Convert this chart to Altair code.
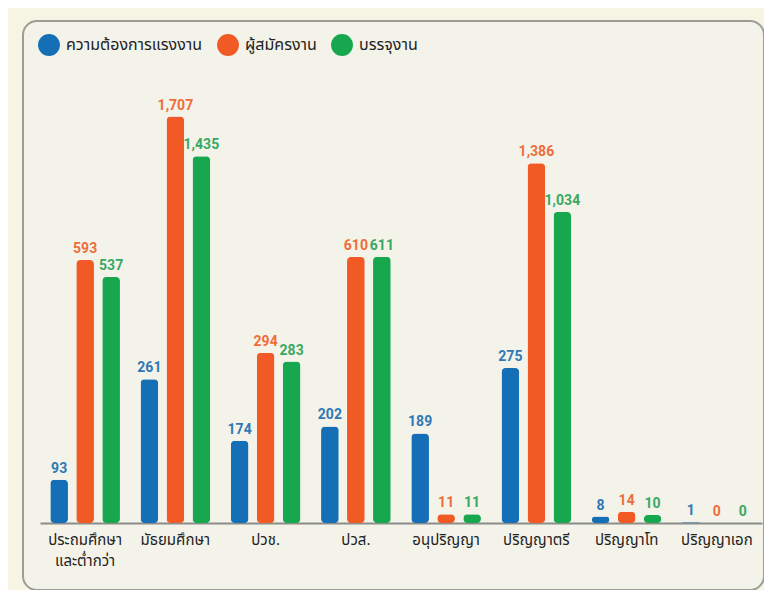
import altair as alt
import pandas as pd

categories = ["ประถมศึกษา\nและต่ำกว่า", "มัธยมศึกษา", "ปวช.", "ปวส.", "อนุปริญญา",
              "ปริญญาตรี", "ปริญญาโท", "ปริญญาเอก"]
series = ["ความต้องการแรงงาน", "ผู้สมัครงาน", "บรรจุงาน"]
demand = [93, 261, 174, 202, 189, 275, 8, 1]
applicants = [593, 1707, 294, 610, 11, 1386, 14, 0]
placed = [537, 1435, 283, 611, 11, 1034, 10, 0]

bar_colors = ["#156fb6", "#f15a24", "#17a84f"]
label_colors = ["#2f78b6", "#ef6d3a", "#3aa862"]

rows = []
for s, vals in zip(series, [demand, applicants, placed]):
    for c, v in zip(categories, vals):
        rows.append({"cat": c, "series": s, "value": v})
df = pd.DataFrame(rows)

THAI = "Noto Sans Thai, Noto Sans, sans-serif"

# infographic-style (non-linear) value scale
y_scale = alt.Scale(domain=[0, 15, 100, 200, 300, 600, 1100, 1800],
                    range=[502, 490, 456, 407, 327, 237, 184, 82],
                    nice=False, zero=False)

x_enc = alt.X("cat:N", sort=categories,
              scale=alt.Scale(range=[17, 739], paddingInner=0.136, paddingOuter=0.068),
              axis=alt.Axis(title=None, orient="bottom", offset=-67, ticks=False,
                            labelAngle=0, labelFontSize=15, labelColor="#222222",
                            labelFont=THAI, labelPadding=9, labelLimit=200,
                            labelLineHeight=21, labelBaseline="top",
                            labelExpr="split(datum.label, '\\n')",
                            domainColor="#8c8c88", domainWidth=2))
xoff = alt.XOffset("series:N", sort=series,
                   scale=alt.Scale(paddingInner=0.32, paddingOuter=0.16))

bars = alt.Chart(df).mark_bar(cornerRadius=4).encode(
    x=x_enc,
    xOffset=xoff,
    y=alt.Y("value:Q", scale=y_scale, axis=None),
    color=alt.Color("series:N", sort=series,
                    scale=alt.Scale(domain=series, range=bar_colors),
                    legend=alt.Legend(title=None, orient="none", legendX=15, legendY=13,
                                      direction="horizontal", symbolType="circle",
                                      symbolSize=480, symbolStrokeWidth=0,
                                      labelFont=THAI, labelFontSize=16,
                                      labelColor="#222222", labelOffset=6,
                                      columnPadding=14, labelLimit=300)),
)

labels = alt.Chart(df).mark_text(baseline="bottom", dy=-4, fontSize=14,
                                 font="Liberation Sans Narrow, Roboto, sans-serif",
                                 fontWeight="bold").encode(
    x=alt.X("cat:N", sort=categories),
    xOffset=xoff,
    y=alt.Y("value:Q", scale=y_scale),
    text=alt.Text("value:Q", format=","),
    color=alt.Color("series:N", sort=series,
                    scale=alt.Scale(domain=series, range=label_colors), legend=None),
)

chart = alt.layer(bars, labels).resolve_scale(color="independent").properties(
    width=741, height=569,
    padding={"left": 15, "top": 13, "right": 0, "bottom": 0},
    background="#f6f4e3",
).configure_view(
    stroke="#9c9c96", strokeWidth=2, cornerRadius=14, fill="#f3f3ea"
)

chart.save("out.html", embed_options={"renderer": "svg", "actions": False})
